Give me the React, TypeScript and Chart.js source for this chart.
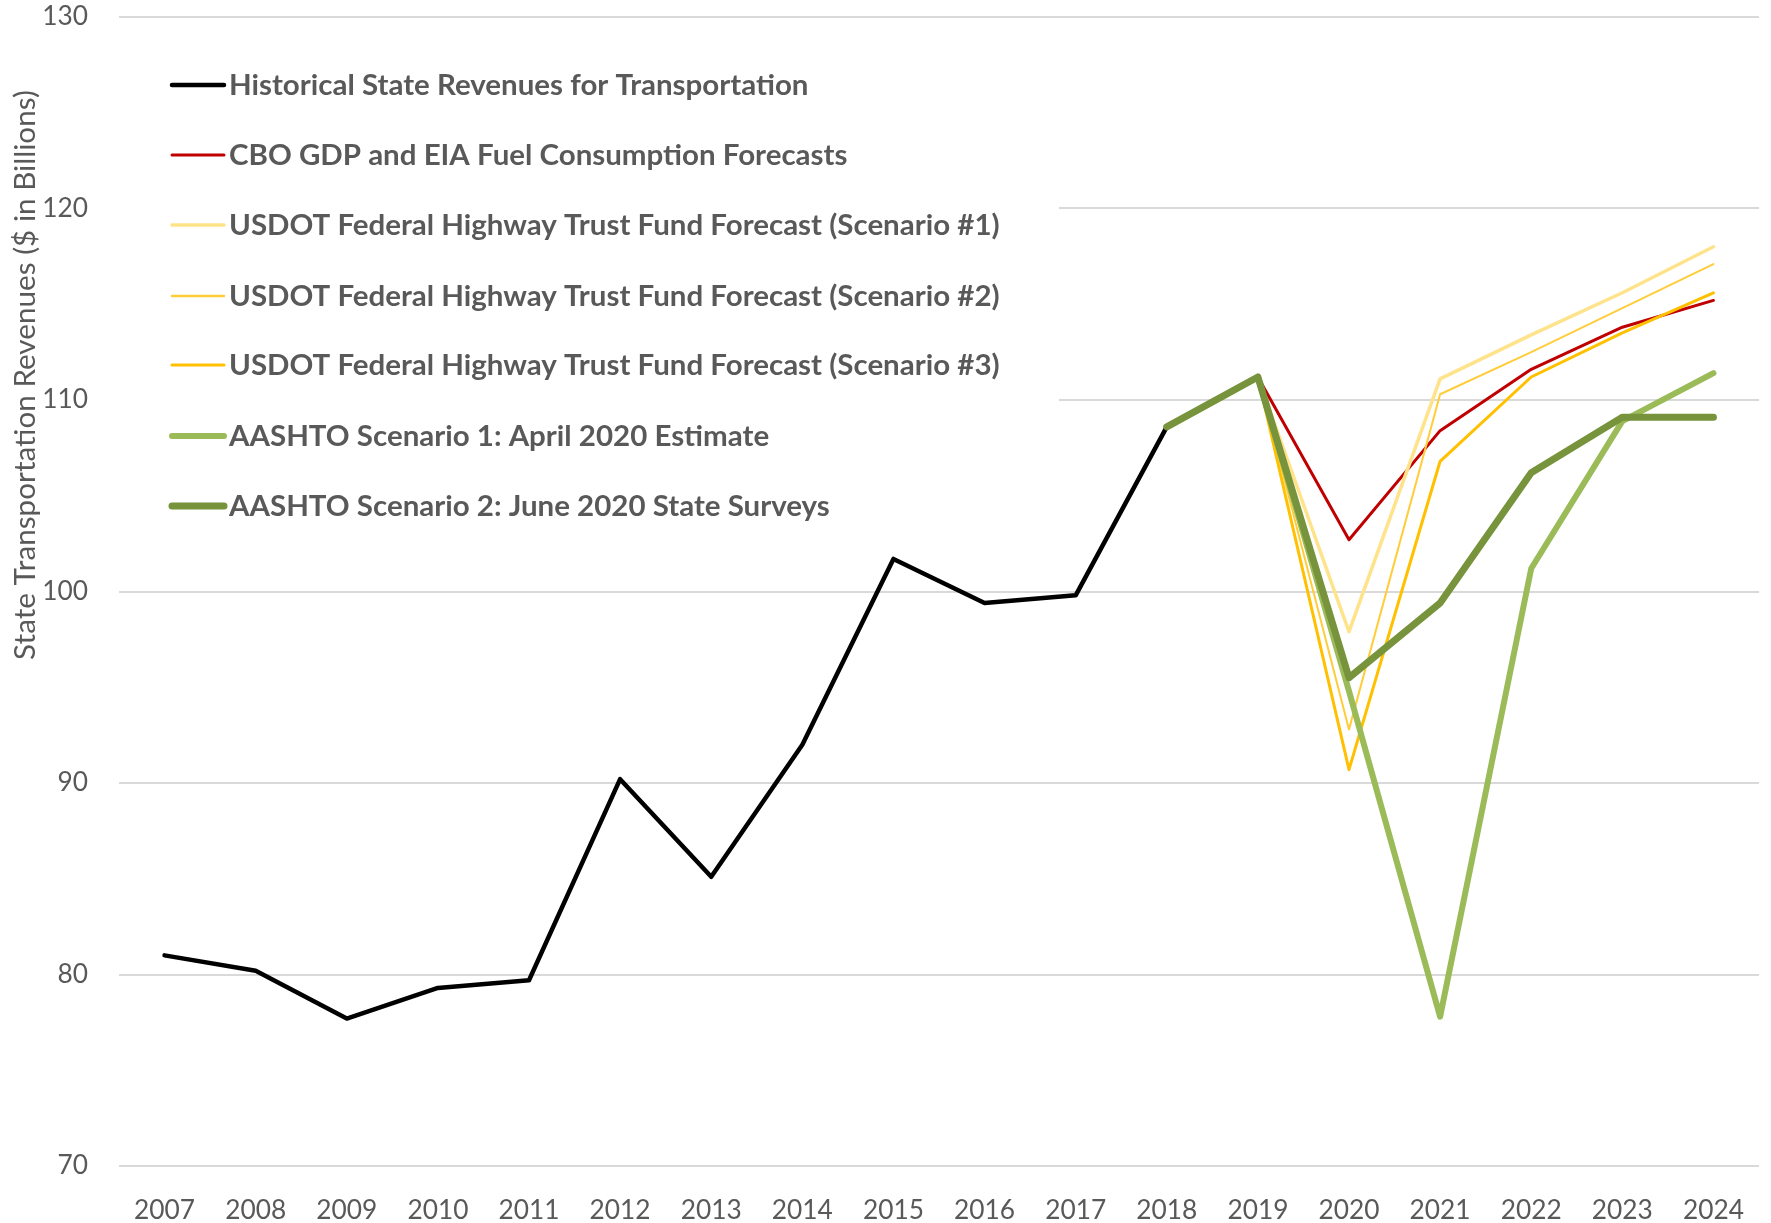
import React, { useEffect, useRef } from "react";
import { Chart, registerables } from "chart.js";

Chart.register(...registerables);

const years = ["2007","2008","2009","2010","2011","2012","2013","2014","2015","2016","2017","2018","2019","2020","2021","2022","2023","2024"];
const N = null;
const historical = [81.0, 80.2, 77.7, 79.3, 79.7, 90.2, 85.1, 92.0, 101.7, 99.4, 99.8, 108.6, N, N, N, N, N, N];
const cbo = [N, N, N, N, N, N, N, N, N, N, N, N, 111.2, 102.7, 108.4, 111.6, 113.8, 115.2];
const usdot1 = [N, N, N, N, N, N, N, N, N, N, N, N, 111.2, 97.9, 111.1, 113.4, 115.6, 118.0];
const usdot2 = [N, N, N, N, N, N, N, N, N, N, N, N, 111.2, 92.8, 110.3, 112.5, 114.8, 117.1];
const usdot3 = [N, N, N, N, N, N, N, N, N, N, N, N, 111.2, 90.7, 106.8, 111.2, 113.5, 115.6];
const aashto1 = [N, N, N, N, N, N, N, N, N, N, N, 108.6, 111.2, 94.8, 77.8, 101.2, 108.9, 111.4];
const aashto2 = [N, N, N, N, N, N, N, N, N, N, N, 108.6, 111.2, 95.5, 99.4, 106.2, 109.1, 109.1];

const seriesLabels = [
  "Historical State Revenues for Transportation",
  "CBO GDP and EIA Fuel Consumption Forecasts",
  "USDOT Federal Highway Trust Fund Forecast (Scenario #1)",
  "USDOT Federal Highway Trust Fund Forecast (Scenario #2)",
  "USDOT Federal Highway Trust Fund Forecast (Scenario #3)",
  "AASHTO Scenario 1: April 2020 Estimate",
  "AASHTO Scenario 2: June 2020 State Surveys",
];
const yTitle = "State Transportation Revenues ($ in Billions)";

const FONT = "Lato, 'Open Sans', sans-serif";
const GRAY = "#595959";

function fitSize(text: string, target: number, weight: string) {
  const c = document.createElement("canvas").getContext("2d")!;
  c.font = `${weight} 100px ${FONT}`;
  const w = c.measureText(text).width;
  return (100 * target) / w;
}

export default function App() {
  const ref = useRef<HTMLCanvasElement>(null);
  useEffect(() => {
    document.body.style.margin = "0";
    const legendSize = fitSize(seriesLabels[2], 771, "bold");
    const tickSize = fitSize("2007", 61, "normal");
    const titleSize = fitSize(yTitle, 570, "normal");

    const styles = [
      { color: "#000000", width: 4.5, order: 6 },
      { color: "#C00000", width: 3, order: 5 },
      { color: "#FFE38A", width: 3.5, order: 4 },
      { color: "#FFCD3A", width: 2, order: 3 },
      { color: "#FFC000", width: 3, order: 2 },
      { color: "#9BBB59", width: 6, order: 1 },
      { color: "#77933C", width: 7, order: 0 },
    ];
    const dataArr = [historical, cbo, usdot1, usdot2, usdot3, aashto1, aashto2];

    const legendPlugin = {
      id: "customLegend",
      beforeDatasetsDraw(chart: any) {
        const ctx = chart.ctx;
        ctx.save();
        ctx.fillStyle = "#ffffff";
        ctx.fillRect(119, 35, 940, 525);
        ctx.restore();
      },
      afterDraw(chart: any) {
        const ctx = chart.ctx;
        ctx.save();
        const rows = [85, 155, 225, 296, 365, 436, 506];
        seriesLabels.forEach((lab, i) => {
          const y = rows[i];
          ctx.strokeStyle = styles[i].color;
          ctx.lineWidth = Math.max(styles[i].width, 2.5);
          ctx.lineCap = "round";
          ctx.beginPath();
          ctx.moveTo(172, y);
          ctx.lineTo(224, y);
          ctx.stroke();
          ctx.fillStyle = GRAY;
          ctx.font = `bold ${legendSize}px ${FONT}`;
          ctx.textBaseline = "middle";
          ctx.textAlign = "left";
          ctx.fillText(lab, 229, y);
        });
        // y axis title
        ctx.translate(25, 375);
        ctx.rotate(-Math.PI / 2);
        ctx.font = `normal ${titleSize}px ${FONT}`;
        ctx.fillStyle = GRAY;
        ctx.textAlign = "center";
        ctx.textBaseline = "middle";
        ctx.fillText(yTitle, 0, 0);
        ctx.restore();
      },
    };

    const chart = new Chart(ref.current!, {
      type: "line",
      data: {
        labels: years,
        datasets: dataArr.map((d, i) => ({
          label: seriesLabels[i],
          data: d,
          borderColor: styles[i].color,
          backgroundColor: styles[i].color,
          borderWidth: styles[i].width,
          order: styles[i].order,
          pointRadius: 0,
          tension: 0,
          spanGaps: false,
          borderCapStyle: "round",
          borderJoinStyle: "round",
        })),
      },
      options: {
        responsive: false,
        animation: false,
        layout: { padding: { top: 17, right: 12, left: 0, bottom: 0 } },
        plugins: { legend: { display: false }, tooltip: { enabled: false }, title: { display: false } },
        scales: {
          x: {
            offset: true,
            grid: { display: false, drawTicks: false },
            border: { display: false },
            ticks: { color: GRAY, font: { family: FONT, size: tickSize }, padding: 29, maxRotation: 0, autoSkip: false },
            afterFit: (s: any) => { s.height = 57; s.paddingLeft = 0; s.paddingRight = 0; },
          },
          y: {
            min: 70,
            max: 130,
            grid: { color: "#D9D9D9", lineWidth: 2, drawTicks: false },
            border: { display: false },
            ticks: { stepSize: 10, color: GRAY, font: { family: FONT, size: tickSize }, padding: 31 },
            afterFit: (s: any) => { s.width = 119; s.paddingTop = 0; s.paddingBottom = 0; },
          },
        },
      },
      plugins: [legendPlugin],
    } as any);
    return () => chart.destroy();
  }, []);
  return <canvas ref={ref} width={1771} height={1223} style={{ display: "block" }} />;
}
